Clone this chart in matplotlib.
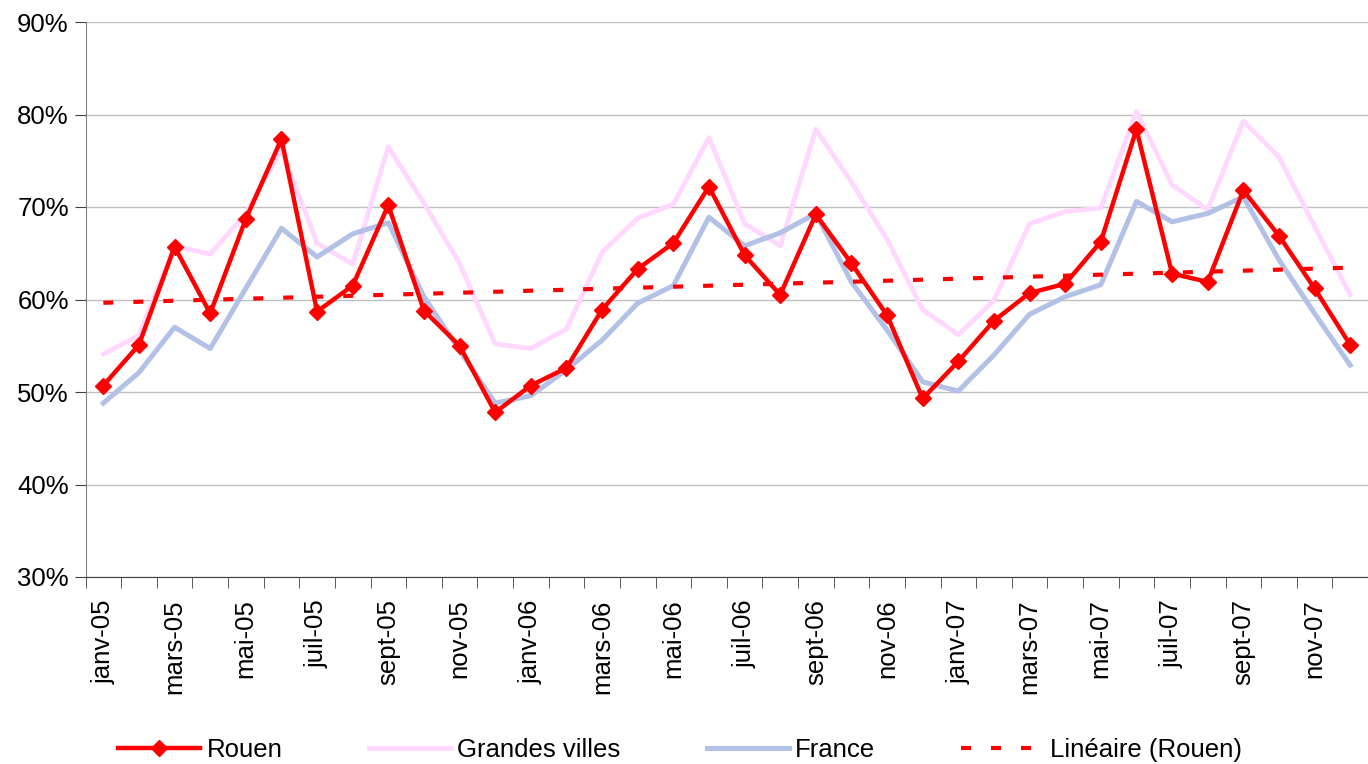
import numpy as np
import matplotlib
matplotlib.use("Agg")
from matplotlib import pyplot as plt

plt.rcParams['font.family'] = ['Liberation Sans', 'DejaVu Sans']

# monthly values, janv-05 .. déc-07 (%)
months = ['janv', 'févr', 'mars', 'avr', 'mai', 'juin',
          'juil', 'août', 'sept', 'oct', 'nov', 'déc']
years = ['05', '06', '07']
labels = [m + '-' + y for y in years for m in months]

rouen = [50.7, 55.1, 65.7, 58.5, 68.7, 77.35, 58.7, 61.5, 70.2, 58.8, 55.0, 47.8,
         50.7, 52.6, 58.9, 63.3, 66.1, 72.2, 64.8, 60.5, 69.2, 63.9, 58.3, 49.3,
         53.3, 57.7, 60.7, 61.7, 66.25, 78.4, 62.8, 61.9, 71.8, 66.9, 61.2, 55.1]
grandes_villes = [54.1, 56.1, 65.8, 64.9, 69.3, 76.2, 66.1, 63.8, 76.5, 70.4, 63.9, 55.2,
                  54.7, 56.8, 65.1, 68.8, 70.3, 77.5, 68.2, 65.8, 78.4, 72.7, 66.5, 58.9,
                  56.2, 59.9, 68.2, 69.5, 69.9, 80.3, 72.4, 69.7, 79.3, 75.4, 67.9, 60.5]
france = [48.8, 52.1, 57.0, 54.7, 61.2, 67.7, 64.6, 67.1, 68.3, 60.3, 54.5, 48.8,
          49.6, 52.4, 55.6, 59.6, 61.5, 68.9, 65.8, 67.2, 69.3, 61.9, 56.7, 51.1,
          50.1, 54.0, 58.4, 60.3, 61.6, 70.6, 68.4, 69.3, 71.1, 64.3, 58.5, 52.9]

x = np.arange(len(labels))
# linear trend of Rouen (Excel "Linéaire")
coef = np.polyfit(x, rouen, 1)
trend = np.polyval(coef, x)

fig = plt.figure(figsize=(13.68, 7.64), dpi=100)
ax = fig.add_axes([85.5/1368, 1-577/764, 1-85.5/1368, (577-22)/764])

ax.plot(x, grandes_villes, color='#FFD7FF', lw=3.4, label='Grandes villes', zorder=2)
ax.plot(x, france, color='#B3C1E6', lw=3.6, label='France', zorder=3)
ax.plot(x, rouen, color='#FF0000', lw=3.2, marker='D', markersize=8.5,
        label='Rouen', zorder=4)
ax.plot(x, trend, color='#FF0000', lw=3, linestyle=(0, (2.4, 4.8)),
        label='Linéaire (Rouen)', zorder=5)

ax.set_ylim(30, 90)
ax.set_yticks(range(30, 91, 10))
ax.set_yticklabels([f'{v}%' for v in range(30, 91, 10)], fontsize=18.5)
ax.yaxis.grid(True, color='#C0C0C0', lw=1)
ax.set_axisbelow(True)

ax.set_xlim(-0.5, 35.2)
ax.set_xticks(x[::2])
ax.set_xticklabels(labels[::2], rotation=90, fontsize=18.5)
ax.set_xticks(np.arange(-0.5, 36, 1), minor=True)
ax.tick_params(axis='x', which='major', length=0, pad=16)
ax.tick_params(axis='x', which='minor', length=8, direction='out', color='#404040')
ax.tick_params(axis='y', length=8, direction='out', color='#404040', pad=4)

for s in ['top', 'right']:
    ax.spines[s].set_visible(False)
ax.spines['left'].set_color('#808080')
ax.spines['bottom'].set_color('#404040')

h, l = ax.get_legend_handles_labels()
order = [2, 0, 1, 3]
fig.legend([h[i] for i in order], [l[i] for i in order], loc='center',
           bbox_to_anchor=(680/1368, 1-750/764), ncol=4, frameon=False,
           fontsize=18.5, handlelength=3.2, handletextpad=0.25, columnspacing=3.35)

fig.savefig('out.png', dpi=100)
